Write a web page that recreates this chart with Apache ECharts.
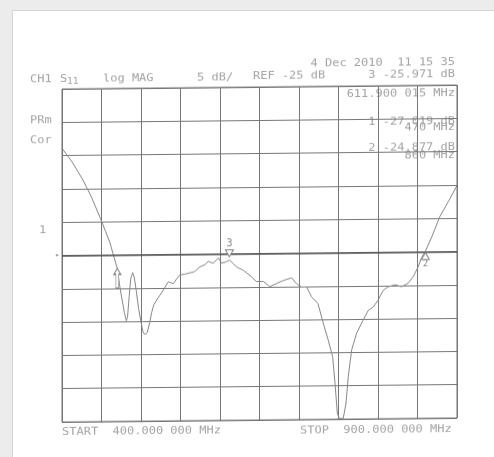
<!DOCTYPE html>
<html>
<head>
<meta charset="utf-8">
<script src="https://cdn.jsdelivr.net/npm/echarts@6/dist/echarts.min.js"></script>
<style>
  html, body { margin: 0; padding: 0; background: #ececec; overflow: hidden; }
  .paper { position: absolute; left: 12px; top: 10px; width: 490px; height: 460px; background: #fff; border-left: 1px solid #d6d6d6; border-top: 1px solid #d6d6d6; }
  /* the scanned plot is slightly sheared: right side sits ~4px higher */
  #chart { position: absolute; left: 0; top: 0; width: 494px; height: 457px; transform: skewY(-0.58deg); transform-origin: 62px 0; }
</style>
</head>
<body>
<div class="paper"></div>
<div id="chart"></div>
<script>
// trace S11 (MHz / dB)
var freq = [400, 413, 426.6, 437, 448, 455, 460.8, 466, 470, 473, 476, 479, 481.5, 483, 485, 487, 489.5, 491.5, 494, 497,
  500, 502.5, 505, 508, 511, 513.5, 516, 520, 524, 528, 534.5, 541, 545, 549, 555, 562, 568, 574.7, 581, 585,
  591.5, 598, 602, 608, 612, 617, 621, 629.5, 638, 646, 655, 663, 672, 680, 690.7, 697, 703, 709.7, 716, 724,
  730.8, 737, 742.6, 745.6, 748.5, 751, 756, 759.5, 762.4, 766.7, 773, 781, 787.7, 794, 800, 806.7, 813, 821.5, 830, 838,
  844.7, 851, 855, 860, 868, 878, 889, 900];
var s11 = [-8.9, -11.0, -13.7, -16.2, -19.3, -21.4, -23.2, -25.4, -27.0, -29.6, -31.7, -33.7, -34.9, -34.3, -31.3, -28.6, -27.7, -28.4, -30.4, -33.1,
  -35.1, -36.6, -37.0, -36.7, -35.2, -33.7, -32.6, -31.8, -31.1, -30.4, -29.1, -29.4, -28.7, -28.1, -28.0, -27.8, -27.6, -26.9, -26.6, -26.1,
  -26.4, -25.6, -26.4, -26.2, -25.95, -26.5, -27.0, -27.5, -28.3, -29.2, -29.2, -30.0, -29.5, -29.1, -28.7, -29.6, -30.1, -30.1, -31.6, -32.6,
  -35.6, -38.1, -40.6, -44.6, -49.1, -49.9, -49.9, -47.6, -43.6, -39.6, -37.1, -35.2, -33.7, -33.2, -32.2, -30.7, -30.2, -29.9, -30.2, -29.7,
  -28.7, -27.2, -25.9, -24.9, -22.8, -19.8, -17.5, -15.1];
// markers
var markerNames = ["1", "2", "3"];
var markerFreq = [470, 860, 611.9];
var markerDb = [-27.019, -24.877, -25.971];

var ink = "#868686";

var chart = echarts.init(document.getElementById("chart"));

// plotter style text: narrow mono font stretched wide
function t(x, y, s, align, size) {
  return {
    type: "text", x: x, y: y, scaleX: 1.2,
    style: {
      text: s, fill: "#a4a4a4", font: (size || 10) + "px 'DejaVu Sans Mono'",
      textAlign: align || "left", textVerticalAlign: "middle"
    }
  };
}

var traceData = freq.map(function (f, i) { return [f, s11[i]]; });

var option = {
  backgroundColor: "transparent",
  animation: false,
  grid: { left: 62, top: 89, right: 37, bottom: 35 },
  xAxis: {
    type: "value", min: 400, max: 900, interval: 50,
    axisLine: { show: false }, axisTick: { show: false }, axisLabel: { show: false },
    splitLine: { show: true, lineStyle: { color: "#767676", width: 1 } }
  },
  yAxis: {
    type: "value", min: -50, max: 0, interval: 5,
    axisLine: { show: false }, axisTick: { show: false }, axisLabel: { show: false },
    splitLine: { show: true, lineStyle: { color: "#767676", width: 1 } }
  },
  graphic: [
    { type: "rect", shape: { x: 62, y: 89, width: 395, height: 333 }, style: { fill: "none", stroke: "#767676", lineWidth: 1 }, z: 5 },
    t(30, 79, "CH1"), t(60, 79, "S"), t(67, 82, "11", "left", 8),
    t(103, 79, "log MAG"),
    t(197, 79, "5 dB/"),
    t(253, 78, "REF -25 dB"),
    t(455, 66, "4 Dec 2010  11 15 35", "right"),
    t(455, 78, "3 -25.971 dB", "right"),
    t(455, 97, "611.900 015 MHz", "right"),
    t(455, 125, "1 -27.019 dB", "right"),
    t(455, 131, "470 MHz", "right"),
    t(455, 151, "2 -24.877 dB", "right"),
    t(455, 159, "860 MHz", "right"),
    t(30, 120, "PRm"),
    t(30, 140, "Cor"),
    t(39, 230, "1"),
    t(55, 255, "\u25B8", "left", 7),
    t(62, 432, "START  400.000 000 MHz"),
    t(300, 433, "STOP  900.000 000 MHz")
  ],
  series: [
    {
      type: "line",
      data: traceData,
      showSymbol: false,
      lineStyle: { color: ink, width: 1 },
      markLine: {
        silent: true, symbol: "none", label: { show: false },
        lineStyle: { color: "#555", width: 1.6, type: "solid" },
        data: [{ yAxis: -25 }]
      },
      markPoint: {
        silent: true,
        data: [
          {
            coord: [markerFreq[0], markerDb[0]], name: markerNames[0],
            symbol: "path://M5,0 L10,6 L7,6 L7,20 L3,20 L3,6 L0,6 Z", symbolSize: [7, 20], symbolOffset: [0, 10],
            itemStyle: { color: "#fff", borderColor: ink, borderWidth: 1 }, label: { show: false }
          },
          {
            coord: [markerFreq[1], markerDb[1]], name: markerNames[1],
            symbol: "triangle", symbolSize: [8, 7], symbolOffset: [0, 5],
            itemStyle: { color: "#fff", borderColor: ink, borderWidth: 1 },
            label: { show: true, formatter: "{b}", position: "bottom", distance: 0, color: ink, fontSize: 9, fontFamily: "DejaVu Sans Mono" }
          },
          {
            coord: [markerFreq[2], markerDb[2]], name: markerNames[2],
            symbol: "triangle", symbolRotate: 180, symbolSize: [8, 7], symbolOffset: [0, -7],
            itemStyle: { color: "#fff", borderColor: ink, borderWidth: 1 },
            label: { show: true, formatter: "{b}", position: "top", distance: 1, color: ink, fontSize: 10, fontFamily: "DejaVu Sans Mono" }
          }
        ]
      }
    }
  ]
};
chart.setOption(option);
</script>
</body>
</html>
